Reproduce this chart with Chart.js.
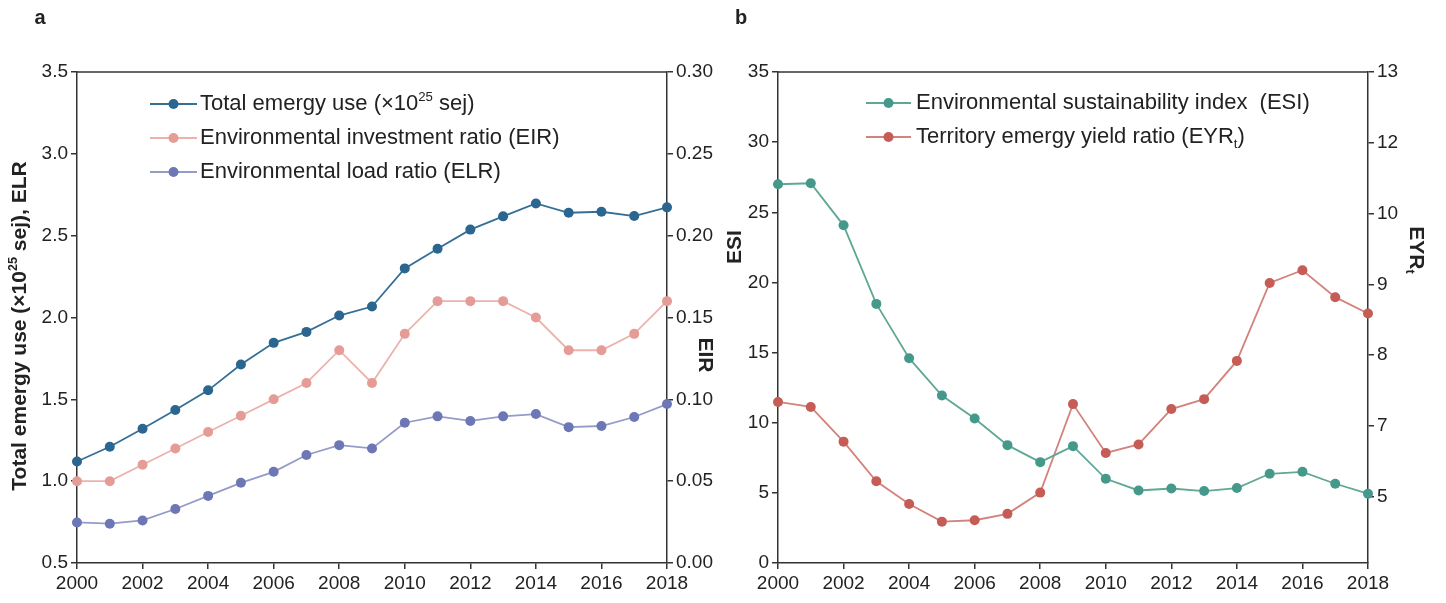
<!DOCTYPE html>
<html>
<head>
<meta charset="utf-8">
<script src="https://cdn.jsdelivr.net/npm/chart.js@4.4.1/dist/chart.umd.min.js"></script>
<style>
  body { margin: 0; background: #fff; }
  #wrap { position: relative; width: 1446px; height: 603px; }
  canvas { position: absolute; top: 0; }
</style>
</head>
<body>
<div id="wrap">
  <canvas id="chartA" width="723" height="603" style="left:0"></canvas>
  <canvas id="chartB" width="723" height="603" style="left:723px"></canvas>
</div>
<script>
// data
const years = [2000, 2001, 2002, 2003, 2004, 2005, 2006, 2007, 2008, 2009,
               2010, 2011, 2012, 2013, 2014, 2015, 2016, 2017, 2018];
const totalEmergy = [1.12, 1.21, 1.32, 1.435, 1.555, 1.713, 1.845, 1.912, 2.012, 2.067,
                     2.30, 2.42, 2.537, 2.618, 2.697, 2.64, 2.646, 2.62, 2.673];
const eir = [0.05, 0.05, 0.06, 0.07, 0.08, 0.09, 0.10, 0.11, 0.13, 0.11,
             0.14, 0.16, 0.16, 0.16, 0.15, 0.13, 0.13, 0.14, 0.16];
const elr = [0.748, 0.74, 0.76, 0.83, 0.91, 0.99, 1.057, 1.16, 1.22, 1.20,
             1.357, 1.396, 1.368, 1.396, 1.41, 1.33, 1.337, 1.392, 1.471];
const esi = [27.0, 27.07, 24.07, 18.47, 14.6, 11.94, 10.30, 8.40, 7.19, 8.33,
             6.0, 5.17, 5.31, 5.13, 5.34, 6.36, 6.5, 5.65, 4.94];
const eyr = [7.34, 7.27, 6.78, 6.22, 5.90, 5.65, 5.67, 5.76, 6.06, 7.31,
             6.62, 6.74, 7.24, 7.38, 7.92, 9.02, 9.20, 8.82, 8.59];

// right axis of panel b: tick values and the labels printed on them
const eyrTickValues = [6, 7, 8, 9, 10, 11, 12];
const eyrTickLabels = ['5', '7', '8', '9', '10', '12', '13'];

Chart.defaults.font.family = '"Liberation Sans", Arial, sans-serif';
Chart.defaults.color = '#222';

const FONT = '"Liberation Sans", Arial, sans-serif';
const AXIS = '#333';

function pts(ys) {
    return years.map((x, i) => ({ x: x, y: ys[i] }));
}

// draw text made of plain / superscript / subscript pieces
function drawRich(ctx, segs, x, y, size, weight, align, rot) {
    ctx.save();
    ctx.translate(x, y);
    if (rot) ctx.rotate(rot * Math.PI / 180);
    ctx.textBaseline = 'middle';
    ctx.textAlign = 'left';
    ctx.fillStyle = '#222';
    let total = 0;
    segs.forEach(s => {
        const sz = (s.sup || s.sub) ? size * 0.6 : size;
        ctx.font = weight + ' ' + sz + 'px ' + FONT;
        s.w = ctx.measureText(s.t).width;
        total += s.w;
    });
    let cx = align === 'center' ? -total / 2 : 0;
    segs.forEach(s => {
        const sz = (s.sup || s.sub) ? size * 0.6 : size;
        ctx.font = weight + ' ' + sz + 'px ' + FONT;
        let dy = 0;
        if (s.sup) dy = -size * 0.3;
        if (s.sub) dy = size * 0.32;
        ctx.fillText(s.t, cx, dy);
        cx += s.w;
    });
    ctx.restore();
}

const overlay = {
    id: 'overlay',
    afterDraw(chart, args, opts) {
        const ctx = chart.ctx;
        const a = chart.chartArea;
        // top frame line
        ctx.save();
        ctx.strokeStyle = AXIS;
        ctx.lineWidth = 1.5;
        ctx.beginPath();
        ctx.moveTo(a.left, a.top);
        ctx.lineTo(a.right, a.top);
        ctx.stroke();
        ctx.restore();

        // legend inside the plot
        opts.legend.forEach((item, i) => {
            const ds = chart.data.datasets[i];
            ctx.save();
            ctx.strokeStyle = ds.borderColor;
            ctx.lineWidth = 1.8;
            ctx.beginPath();
            ctx.moveTo(item.x1, item.y);
            ctx.lineTo(item.x2, item.y);
            ctx.stroke();
            ctx.fillStyle = ds.pointBackgroundColor;
            ctx.beginPath();
            ctx.arc((item.x1 + item.x2) / 2, item.y, 5, 0, Math.PI * 2);
            ctx.fill();
            ctx.restore();
            drawRich(ctx, item.segs, item.tx, item.y, 22, 'normal', 'left', 0);
        });

        opts.texts.forEach(t => {
            drawRich(ctx, t.segs, t.x, t.y, t.size, 'bold', 'center', t.rot);
        });
    }
};

function yAxis(pos, min, max, step, width, fmt) {
    return {
        type: 'linear',
        position: pos,
        min: min,
        max: max,
        afterFit: s => { s.width = width; },
        ticks: { stepSize: step, padding: 3, font: { size: 19 }, callback: fmt },
        grid: { drawOnChartArea: false, tickLength: 6, color: AXIS, lineWidth: 1.5 },
        border: { display: true, color: AXIS, width: 1.5 }
    };
}

const xAxis = {
    type: 'linear',
    min: 2000,
    max: 2018,
    afterFit: s => { s.height = 40; },
    ticks: { stepSize: 2, padding: 3, font: { size: 19 }, maxRotation: 0, callback: v => String(v) },
    grid: { drawOnChartArea: false, tickLength: 6, color: AXIS, lineWidth: 1.5 },
    border: { display: true, color: AXIS, width: 1.5 }
};

function series(label, data, axis, line, dot) {
    return {
        label: label,
        data: pts(data),
        yAxisID: axis,
        borderColor: line,
        borderWidth: 1.8,
        pointBackgroundColor: dot,
        pointBorderWidth: 0,
        pointRadius: 5,
        tension: 0,
        clip: false
    };
}

new Chart(document.getElementById('chartA'), {
    type: 'line',
    data: {
        datasets: [
            series('Total emergy use', totalEmergy, 'y', '#356f95', '#2a6690'),
            series('EIR', eir, 'y2', '#ecb2ac', '#e59c96'),
            series('ELR', elr, 'y', '#959bc8', '#6e77b5')
        ]
    },
    options: {
        responsive: false,
        animation: false,
        layout: { padding: { top: 72, left: 0, right: 0, bottom: 0 } },
        scales: {
            x: xAxis,
            y: yAxis('left', 0.5, 3.5, 0.5, 77, v => v.toFixed(1)),
            y2: yAxis('right', 0, 0.30, 0.05, 56, v => v.toFixed(2))
        },
        plugins: {
            legend: { display: false },
            tooltip: { enabled: false },
            overlay: {
                legend: [
                    { x1: 150, x2: 197, tx: 200, y: 104,
                      segs: [{ t: 'Total emergy use (×10' }, { t: '25', sup: true }, { t: ' sej)' }] },
                    { x1: 150, x2: 197, tx: 200, y: 138,
                      segs: [{ t: 'Environmental investment ratio (EIR)' }] },
                    { x1: 150, x2: 197, tx: 200, y: 172,
                      segs: [{ t: 'Environmental load ratio (ELR)' }] }
                ],
                texts: [
                    { x: 40, y: 18, size: 20, rot: 0, segs: [{ t: 'a' }] },
                    { x: 20, y: 326, size: 21, rot: -90,
                      segs: [{ t: 'Total emergy use (×10' }, { t: '25', sup: true }, { t: ' sej), ELR' }] },
                    { x: 705, y: 355, size: 21, rot: 90, segs: [{ t: 'EIR' }] }
                ]
            }
        }
    },
    plugins: [overlay]
});

const eyrAxis = yAxis('right', 5.066, 12, 1, 78, v => {
    const i = eyrTickValues.indexOf(v);
    return i >= 0 ? eyrTickLabels[i] : '';
});
eyrAxis.afterBuildTicks = s => { s.ticks = eyrTickValues.map(v => ({ value: v })); };

new Chart(document.getElementById('chartB'), {
    type: 'line',
    data: {
        datasets: [
            series('ESI', esi, 'y', '#5ea894', '#45998a'),
            series('EYRt', eyr, 'y2', '#d2837c', '#c55c56')
        ]
    },
    options: {
        responsive: false,
        animation: false,
        layout: { padding: { top: 72, left: 0, right: 0, bottom: 0 } },
        scales: {
            x: xAxis,
            y: yAxis('left', 0, 35, 5, 55, v => String(v)),
            y2: eyrAxis
        },
        plugins: {
            legend: { display: false },
            tooltip: { enabled: false },
            overlay: {
                legend: [
                    { x1: 143, x2: 188, tx: 193, y: 103,
                      segs: [{ t: 'Environmental sustainability index  (ESI)' }] },
                    { x1: 143, x2: 188, tx: 193, y: 137,
                      segs: [{ t: 'Territory emergy yield ratio (EYR' }, { t: 't', sub: true }, { t: ')' }] }
                ],
                texts: [
                    { x: 18, y: 18, size: 20, rot: 0, segs: [{ t: 'b' }] },
                    { x: 12, y: 247, size: 21, rot: -90, segs: [{ t: 'ESI' }] },
                    { x: 693, y: 250, size: 21, rot: 90, segs: [{ t: 'EYR' }, { t: 't', sub: true }] }
                ]
            }
        }
    },
    plugins: [overlay]
});
</script>
</body>
</html>
